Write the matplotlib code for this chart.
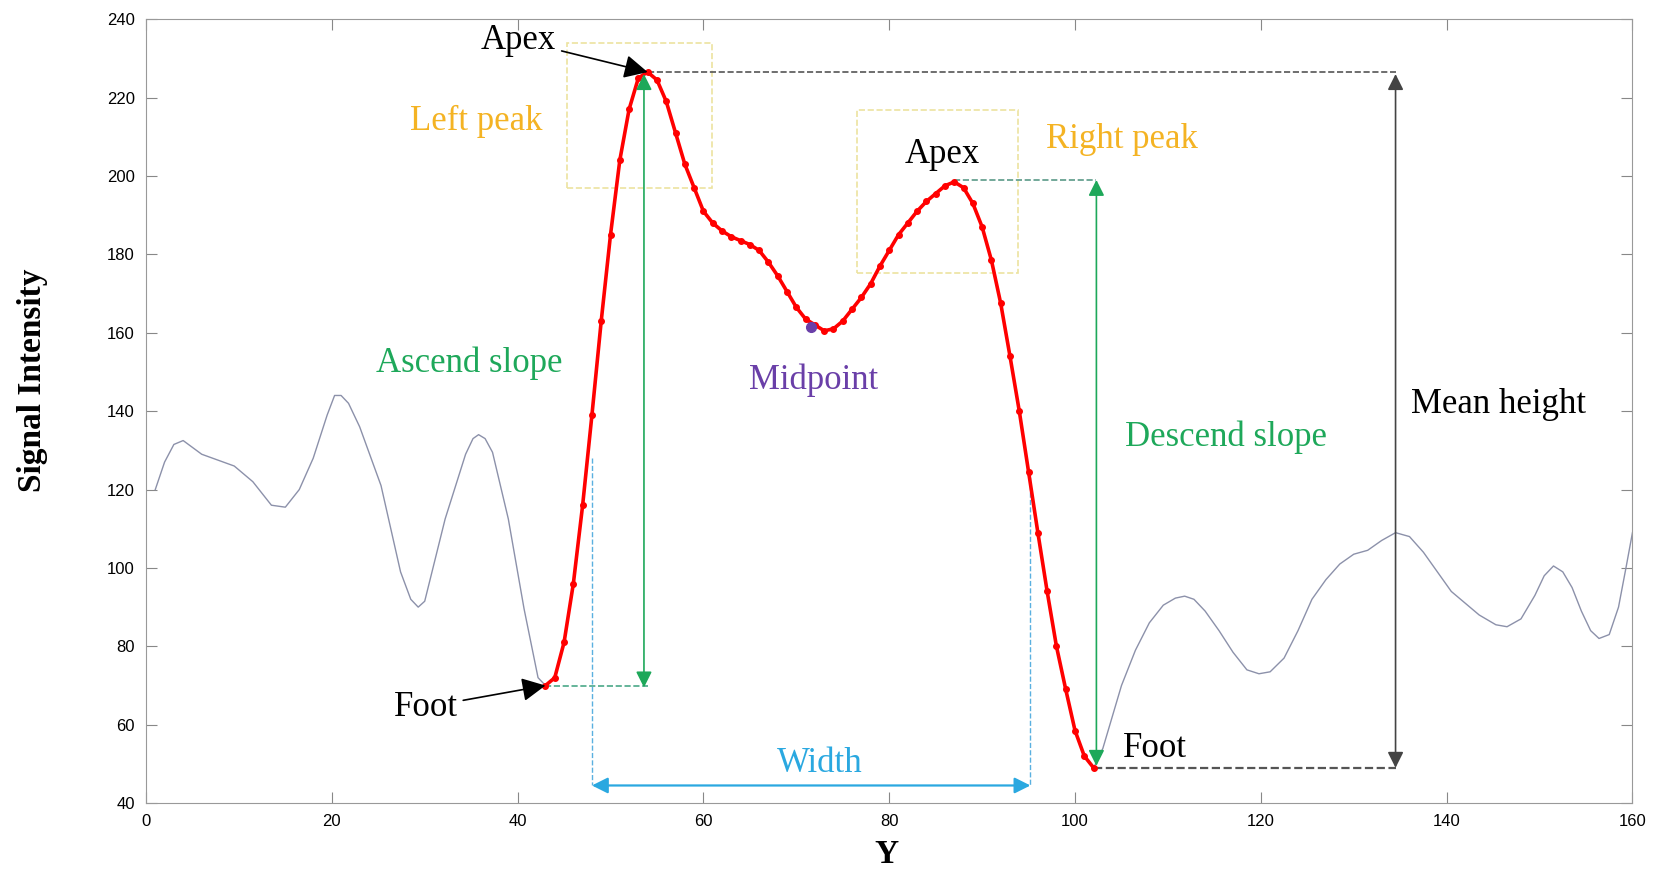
import matplotlib.pyplot as plt
from matplotlib.patches import Rectangle

# background signal left of the peak region
left_x = [1, 2, 3, 4, 6, 9.5, 11.5, 13.5, 15, 16.5, 18, 19.5, 20.3, 21, 21.8, 23, 25.3,
          27.4, 28.5, 29.3, 30, 32.2, 34.4, 35.2, 35.8, 36.5, 37.3, 39, 40.7, 42.2]
left_y = [120, 127, 131.5, 132.5, 129, 126, 122, 116, 115.5, 120, 128, 139, 144, 144, 142,
          136, 121, 99, 92, 90, 91.5, 112.5, 129, 133, 134, 133, 129.5, 112.5, 89.5, 72]

# extracted peak (red, one sample per unit)
peak_x = list(range(43, 103))
peak_y = [70, 72, 81, 96, 116, 139, 163, 185, 204, 217, 225, 226.5, 224.5, 219, 211, 203,
          197, 191, 188, 186, 184.5, 183.5, 182.5, 181, 178, 174.5, 170.5, 166.5, 163.5, 162,
          160.5, 161, 163, 166, 169, 172.5, 177, 181, 185, 188, 191, 193.5, 195.5, 197.5,
          198.5, 197, 193, 187, 178.5, 167.5, 154, 140, 124.5, 109, 94, 80, 69, 58.5, 52, 49]

# background signal right of the peak region
right_x = [103, 104, 105, 106.5, 108, 109.5, 110.8, 111.8, 112.8, 114, 115.5, 117, 118.5,
           119.8, 121, 122.5, 124, 125.5, 127, 128.5, 130, 131.5, 133, 134.5, 136, 137.5,
           139, 140.5, 142, 143.5, 145.3, 146.5, 148, 149.5, 150.5, 151.5, 152.5, 153.5,
           154.5, 155.5, 156.4, 157.5, 158.5, 159.3, 160]
right_y = [54, 62, 70, 79, 86, 90.5, 92.3, 92.8, 92, 89, 84, 78.5, 74, 73, 73.5, 77, 84, 92,
           97, 101, 103.5, 104.5, 107, 109, 108, 104, 99, 94, 91, 88, 85.5, 85, 87, 93, 98,
           100.5, 99, 95, 89, 84, 82, 83, 90, 100, 109]

midpoint = (71.6, 161.5)
apex_left = (54, 226.5)
apex_right = (87, 198.5)
foot_left = (43, 70)
foot_right = (102, 49)
width_x = (48, 95.2)
mean_x = 134.5

serif = 'Liberation Serif'
c_gold = '#f4b323'
c_green = '#1ea85a'
c_blue = '#2aa8e0'
c_purple = '#6a3fa8'

fig = plt.figure(figsize=(16.59, 8.72), dpi=100)
ax = fig.add_axes([0.088, 0.079, 0.896, 0.899])

sig_x = left_x + peak_x + right_x
sig_y = left_y + peak_y + right_y
ax.plot(sig_x, sig_y, color='#8c91aa', lw=1.0)
ax.plot(peak_x, peak_y, color='#ff0000', lw=2.6, marker='o', ms=4, zorder=3)
ax.plot(*midpoint, marker='o', color=c_purple, ms=7, zorder=4)

# peak boxes
ax.add_patch(Rectangle((45.3, 197), 15.6, 37, fill=False, ec='#ece3a0', ls='--', lw=1.2))
ax.add_patch(Rectangle((76.5, 175.2), 17.4, 41.6, fill=False, ec='#ece3a0', ls='--', lw=1.2))

# guide lines
ax.plot([apex_left[0], mean_x], [apex_left[1]] * 2, color='#555555', ls='--', lw=1.2)
ax.plot([foot_right[0], mean_x], [foot_right[1]] * 2, color='#555555', ls='--', lw=1.6)
ax.plot([foot_left[0], apex_left[0]], [foot_left[1]] * 2, color='#4aa888', ls='--', lw=1.2)
ax.plot([apex_right[0], 102.3], [199, 199], color='#5a9a88', ls='--', lw=1.2)
ax.plot([width_x[0]] * 2, [128, 44.5], color='#5ab0e0', ls='--', lw=1.0)
ax.plot([width_x[1]] * 2, [125, 44.5], color='#5ab0e0', ls='--', lw=1.0)

# double arrows
def darrow(p0, p1, color, lw=1.2):
    ax.annotate('', xy=p1, xytext=p0,
                arrowprops=dict(arrowstyle='<|-|>', color=color, lw=lw,
                                mutation_scale=24, shrinkA=0, shrinkB=0))

darrow((53.6, 226), (53.6, 69.5), c_green)
darrow((102.3, 199), (102.3, 49.5), c_green)
darrow((mean_x, 226), (mean_x, 49), '#444444')
darrow((width_x[0], 44.5), (width_x[1], 44.5), c_blue, lw=1.6)

# labels with pointer arrows
arrow_k = dict(arrowstyle='-|>', color='black', lw=1.2, mutation_scale=36, shrinkB=0)
ax.annotate('Apex', xy=apex_left, xytext=(40.1, 234.6), ha='center', va='center',
            fontsize=25, family=serif, arrowprops=arrow_k)
ax.annotate('Foot', xy=foot_left, xytext=(30.1, 64.5), ha='center', va='center',
            fontsize=25, family=serif, arrowprops=arrow_k)

ax.text(35.6, 213.8, 'Left peak', color=c_gold, fontsize=25, family=serif, ha='center', va='center')
ax.text(105.1, 209.2, 'Right peak', color=c_gold, fontsize=25, family=serif, ha='center', va='center')
ax.text(34.8, 152.3, 'Ascend slope', color=c_green, fontsize=25, family=serif, ha='center', va='center')
ax.text(116.3, 133.4, 'Descend slope', color=c_green, fontsize=25, family=serif, ha='center', va='center')
ax.text(71.9, 147.8, 'Midpoint', color=c_purple, fontsize=25, family=serif, ha='center', va='center')
ax.text(85.7, 205.5, 'Apex', fontsize=25, family=serif, ha='center', va='center')
ax.text(145.6, 141.8, 'Mean height', fontsize=25, family=serif, ha='center', va='center')
ax.text(108.6, 54, 'Foot', fontsize=25, family=serif, ha='center', va='center')
ax.text(72.5, 50, 'Width', color=c_blue, fontsize=25, family=serif, ha='center', va='center')

ax.set_xlim(0, 160)
ax.set_ylim(40, 240)
ax.set_xticks(range(0, 161, 20))
ax.set_yticks(range(40, 241, 20))
ax.tick_params(direction='in', length=8, top=True, right=True, labelsize=12,
               color='#888888', pad=8)
for tl in ax.get_xticklabels() + ax.get_yticklabels():
    tl.set_family('Liberation Sans')
for s in ax.spines.values():
    s.set_color('#999999')

ax.set_xlabel('Y', fontsize=24, family=serif, fontweight='bold')
ax.set_ylabel('Signal Intensity', fontsize=24, family=serif, fontweight='bold')
ax.xaxis.set_label_coords(0.498, -0.046)
ax.yaxis.set_label_coords(-0.066, 0.54)

fig.savefig('out.png', dpi=100)
